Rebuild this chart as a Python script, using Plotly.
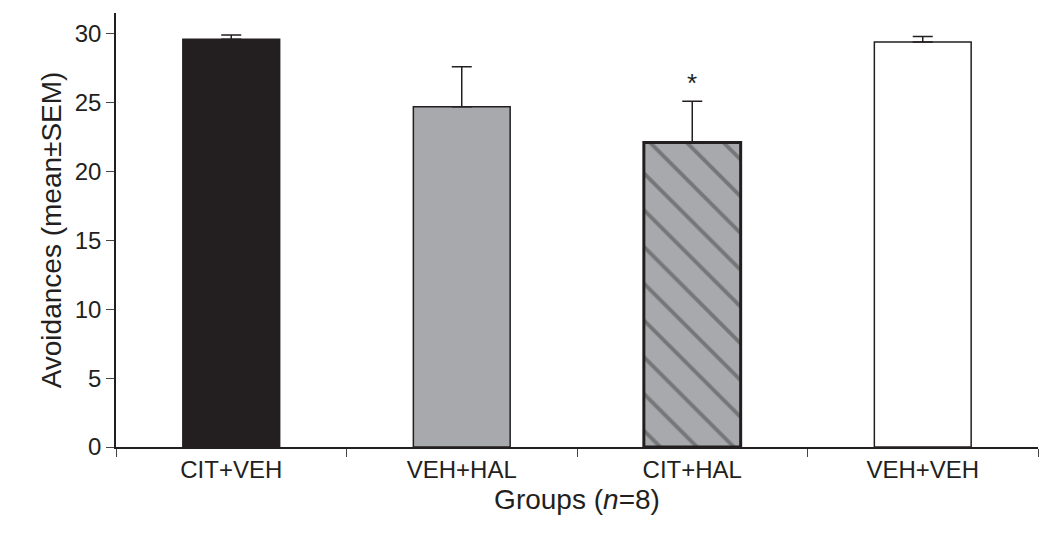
import plotly.graph_objects as go

groups = ["CIT+VEH", "VEH+HAL", "CIT+HAL", "VEH+VEH"]
means = [29.6, 24.7, 22.1, 29.4]
sem = [0.3, 2.9, 3.0, 0.4]

fills = ["#231f20", "#a7a9ac", "#a7a9ac", "#ffffff"]
shapes = ["", "", "\\", ""]

fig = go.Figure(go.Bar(
    x=groups, y=means, width=0.42,
    marker=dict(color=fills, line=dict(color="#231f20", width=[1.5, 1.5, 3, 1.5]),
                pattern=dict(shape=shapes, fgcolor="#231f20", bgcolor=fills,
                             size=26, solidity=0.15)),
    error_y=dict(type="data", array=sem, arrayminus=[0] * 4, symmetric=False,
                 color="#231f20", thickness=1.5, width=10),
))
fig.add_annotation(x="CIT+HAL", y=25.2, text="*", showarrow=False, yanchor="bottom",
                   font=dict(size=26, color="#231f20"))
fig.update_layout(
    width=1050, height=547, plot_bgcolor="white", paper_bgcolor="white",
    margin=dict(l=108, r=20, t=5, b=108), showlegend=False,
    font=dict(family="Liberation Sans, Arial", size=23, color="#231f20"),
)
fig.update_yaxes(range=[0, 31.5], tickvals=[0, 5, 10, 15, 20, 25, 30], ticks="outside",
                 ticklen=8, showline=True, linecolor="#231f20", linewidth=1.5,
                 showgrid=False, zeroline=False, title_text="Avoidances (mean±SEM)",
                 title_standoff=5, tickfont=dict(size=24))
fig.update_xaxes(ticks="outside", tickson="boundaries", ticklen=8, showline=True,
                 linecolor="#231f20", linewidth=1.5, showgrid=False,
                 title_text="Groups (<i>n</i>=8)", title_standoff=8, tickfont=dict(size=24))
fig.write_html("out.html")
